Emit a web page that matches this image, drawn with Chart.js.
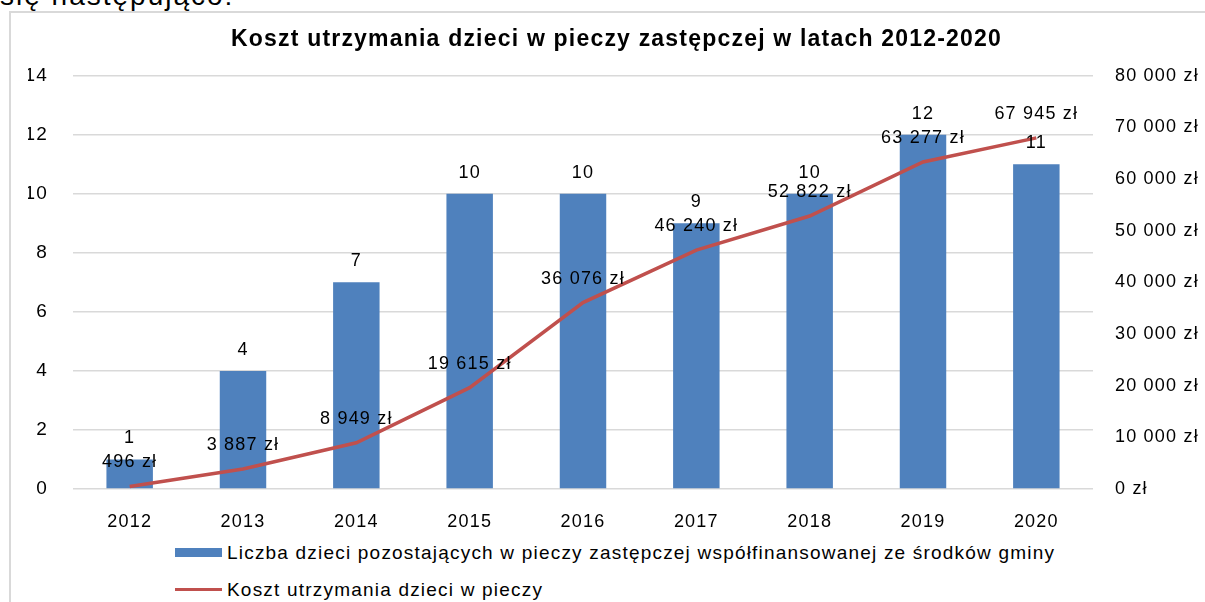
<!DOCTYPE html>
<html>
<head>
<meta charset="utf-8">
<script src="https://cdn.jsdelivr.net/npm/chart.js@4"></script>
<style>
    body { margin: 0; width: 1205px; height: 602px; overflow: hidden; background: #fff; font-family: "Liberation Sans", Arial, sans-serif; position: relative; }
    #lead { position: absolute; left: 0; top: -18px; font-size: 28px; line-height: 28px; letter-spacing: 2px; color: #000; white-space: nowrap; }
    #frame { position: absolute; left: 9px; top: 11px; width: 1300px; height: 700px; border: 2px solid #d9d9d9; box-sizing: border-box; }
    #wrap { position: absolute; left: 0; top: 0; width: 1205px; height: 530px; }
    #legend { position: absolute; left: 175px; top: 534px; font-size: 19px; color: #000; letter-spacing: 1.2px; }
    .row { height: 37px; display: flex; align-items: center; white-space: nowrap; }
    .mark { width: 47px; margin-right: 5px; }
</style>
</head>
<body>
<div id="lead">się następująco:</div>
<div id="frame"></div>
<div id="wrap"><canvas id="chart"></canvas></div>
<div id="legend"></div>
<script>
// dane
var years = ['2012', '2013', '2014', '2015', '2016', '2017', '2018', '2019', '2020']
var childCount = [1, 4, 7, 10, 10, 9, 10, 12, 11]
var costPln = [496, 3887, 8949, 19615, 36076, 46240, 52822, 63277, 67945]

var barLabel = 'Liczba dzieci pozostających w pieczy zastępczej współfinansowanej ze środków gminy'
var lineLabel = 'Koszt utrzymania dzieci w pieczy'
var title = 'Koszt utrzymania dzieci w pieczy zastępczej w latach 2012-2020'

var blue = '#4f81bd'
var red = '#c0504d'
var font = '"Liberation Sans", Arial, sans-serif'

// 12345 -> "12 345 zł"
var zl = function (v) {
    return v.toString().replace(/\B(?=(\d{3})+(?!\d))/g, ' ') + ' zł'
}

// podpisy wartości nad słupkami i punktami
var valueLabels = {
    id: 'valueLabels',
    beforeDraw: function (chart) {
        chart.ctx.letterSpacing = '1.2px'
    },
    afterDatasetsDraw: function (chart) {
        var ctx = chart.ctx
        ctx.save()
        ctx.font = '18px ' + font
        ctx.fillStyle = '#000'
        ctx.textAlign = 'center'
        ctx.textBaseline = 'middle'
        chart.data.datasets.forEach(function (ds, i) {
            chart.getDatasetMeta(i).data.forEach(function (el, j) {
                var text = ds.type === 'line' ? zl(ds.data[j]) : String(ds.data[j])
                var off = ds.type === 'line' ? 24 : 21
                ctx.fillText(text, el.x, el.y - off)
            })
        })
        ctx.restore()
    }
}

var chart = new Chart(document.getElementById('chart'), {
    data: {
        labels: years,
        datasets: [{
            type: 'line',
            label: lineLabel,
            data: costPln,
            yAxisID: 'yCost',
            borderColor: red,
            borderWidth: 3.5,
            pointRadius: 0,
            tension: 0,
            order: 0
        }, {
            type: 'bar',
            label: barLabel,
            data: childCount,
            yAxisID: 'yCount',
            backgroundColor: blue,
            categoryPercentage: 1,
            barPercentage: 0.41,
            order: 1
        }]
    },
    plugins: [valueLabels],
    options: {
        responsive: true,
        maintainAspectRatio: false,
        animation: false,
        layout: { padding: { left: 28 } },
        plugins: {
            legend: { display: false },
            tooltip: { enabled: false },
            title: {
                display: true,
                text: title,
                color: '#000',
                font: { family: font, size: 23, weight: 'bold' },
                padding: { top: 26, bottom: 22 }
            }
        },
        scales: {
            x: {
                grid: { display: false },
                border: { display: false },
                ticks: { color: '#000', font: { family: font, size: 18 }, padding: 14, maxRotation: 0 },
                afterFit: function (s) { s.height = 41 }
            },
            yCount: {
                position: 'left',
                min: 0,
                max: 14,
                grid: { color: '#d9d9d9', lineWidth: 1.5, drawTicks: false },
                border: { display: false },
                ticks: { stepSize: 2, color: '#000', font: { family: font, size: 19 }, padding: 25 },
                afterFit: function (s) { s.width = 45 }
            },
            yCost: {
                position: 'right',
                min: 0,
                max: 80000,
                grid: { display: false, drawTicks: false },
                border: { display: false },
                ticks: {
                    stepSize: 10000,
                    color: '#000',
                    font: { family: font, size: 18 },
                    padding: 22,
                    callback: function (v) { return zl(v) }
                },
                afterFit: function (s) { s.width = 112 }
            }
        }
    }
})

// legenda jako HTML, w dwóch wierszach jak w oryginale
var legend = document.getElementById('legend')
;[[barLabel, 'bar'], [lineLabel, 'line']].forEach(function (it) {
    var row = document.createElement('div')
    row.className = 'row'
    var mark = document.createElement('span')
    mark.className = 'mark'
    if (it[1] === 'bar') {
        mark.style.height = '9px'
        mark.style.background = blue
    } else {
        mark.style.height = '3.5px'
        mark.style.background = red
    }
    var txt = document.createElement('span')
    txt.textContent = it[0]
    row.appendChild(mark)
    row.appendChild(txt)
    legend.appendChild(row)
})
</script>
</body>
</html>
